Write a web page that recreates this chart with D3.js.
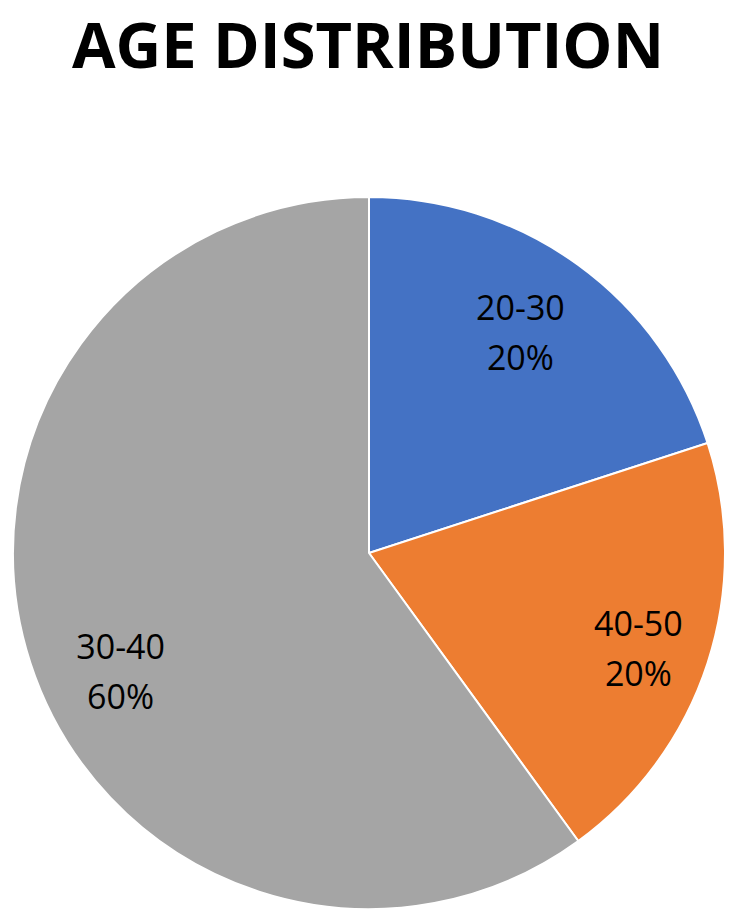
<!DOCTYPE html>
<html>
<head>
<meta charset="utf-8">
<script src="https://cdn.jsdelivr.net/npm/d3@7"></script>
<style>
  body { margin: 0; background: #fff; }
  svg { display: block; }
</style>
</head>
<body>
<div id="chart"></div>
<script>
'use strict';

// chart data, in drawing order (clockwise from 12 o'clock)
var categories = ['20-30', '40-50', '30-40'];
var shares = [20, 20, 60];
var colors = ['#4472C4', '#ED7D31', '#A5A5A5'];

var width = 752, height = 924;
var cx = 369, cy = 553, radius = 356;

var svg = d3.select('#chart')
    .append('svg')
    .attr('width', width)
    .attr('height', height);

svg.append('text')
    .attr('x', 368)
    .attr('y', 68)
    .attr('text-anchor', 'middle')
    .attr('font-family', '"Open Sans", sans-serif')
    .attr('font-weight', 700)
    .attr('font-size', 63)
    .attr('textLength', 592)
    .attr('lengthAdjust', 'spacingAndGlyphs')
    .text('AGE DISTRIBUTION');

var slices = categories.map(function (c, i) {
    return { name: c, value: shares[i], color: colors[i] };
});

var pie = d3.pie()
    .sort(null)
    .value(function (d) { return d.value; });

var arc = d3.arc().innerRadius(0).outerRadius(radius);
var labelArc = d3.arc().innerRadius(278).outerRadius(278);

// excel "best fit" puts labels a bit off the centroid
var nudge = { '20-30': [-12, 5], '40-50': [5, 10], '30-40': [16, 33] };

var g = svg.append('g')
    .attr('transform', 'translate(' + cx + ',' + cy + ')');

var arcs = pie(slices);

g.selectAll('.slice')
    .data(arcs)
    .enter()
    .append('path')
    .attr('class', 'slice')
    .attr('d', arc)
    .attr('fill', function (d) { return d.data.color; })
    .attr('stroke', '#fff')
    .attr('stroke-width', 2);

var label = g.selectAll('.label')
    .data(arcs)
    .enter()
    .append('text')
    .attr('class', 'label')
    .attr('text-anchor', 'middle')
    .attr('font-family', '"Open Sans", sans-serif')
    .attr('font-size', 34)
    .attr('fill', '#000')
    .attr('transform', function (d) {
        var c = labelArc.centroid(d);
        var n = nudge[d.data.name] || [0, 0];
        return 'translate(' + (c[0] + n[0]) + ',' + (c[1] + n[1]) + ')';
    });

label.append('tspan')
    .attr('x', 0)
    .attr('y', -13)
    .text(function (d) { return d.data.name; });

label.append('tspan')
    .attr('x', 0)
    .attr('y', 37)
    .text(function (d) { return d.data.value + '%'; });
</script>
</body>
</html>
